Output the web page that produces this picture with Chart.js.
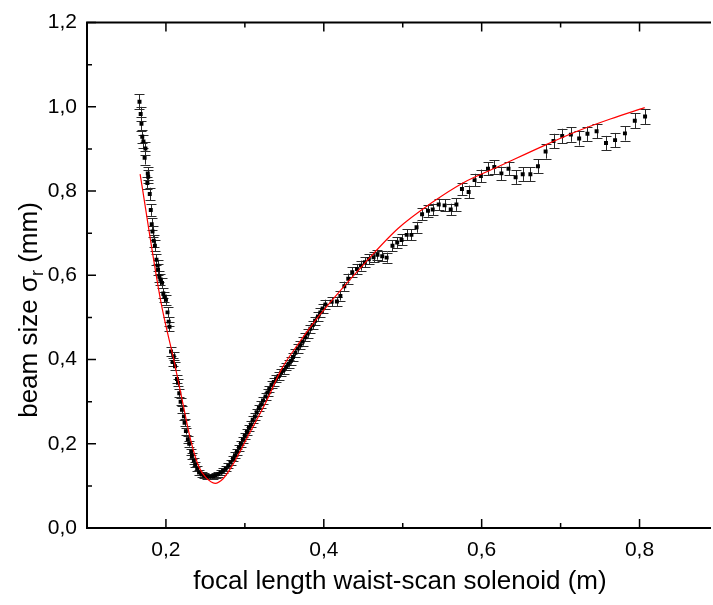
<!DOCTYPE html>
<html>
<head>
<meta charset="utf-8">
<script src="https://cdn.jsdelivr.net/npm/chart.js@4.4.1/dist/chart.umd.min.js"></script>
<style>
  html, body { margin: 0; padding: 0; background: #fff; }
  #wrap { width: 713px; height: 605px; }
</style>
</head>
<body>
<div id="wrap"><canvas id="waistScan"></canvas></div>
<script>
// measured beam size vs focal length (m), values in mm
const focalLength = [
  0.1665, 0.168, 0.169, 0.170, 0.1715, 0.173, 0.174, 0.1765, 0.177, 0.1775,
  0.1795, 0.1808, 0.182, 0.183, 0.1845, 0.186, 0.188, 0.1895, 0.190, 0.1917,
  0.193, 0.195, 0.1967, 0.198, 0.200, 0.202, 0.2035, 0.2045,
  0.2065, 0.2085, 0.2098, 0.2115, 0.214, 0.2153, 0.2169, 0.2186, 0.2203, 0.2228,
  0.2236, 0.2253, 0.2278, 0.2295, 0.232, 0.2329, 0.2354, 0.237, 0.2396, 0.242,
  0.2455, 0.2488, 0.2525, 0.2564, 0.2598, 0.263, 0.2665, 0.2695, 0.2724, 0.2758,
  0.279, 0.282, 0.285, 0.2875, 0.290, 0.2926, 0.295, 0.2976, 0.300, 0.3027,
  0.3052, 0.3077, 0.310, 0.3127, 0.315, 0.3178, 0.3207, 0.323, 0.3262, 0.3287,
  0.331, 0.3338, 0.3367, 0.3396, 0.343, 0.346, 0.349, 0.3527, 0.3556, 0.3585,
  0.361, 0.364, 0.367, 0.3704, 0.3733, 0.3767, 0.3796, 0.383, 0.386, 0.389,
  0.3926, 0.3956, 0.3985, 0.402,
  0.410, 0.4166, 0.421, 0.426, 0.431, 0.436, 0.442, 0.447, 0.452, 0.457,
  0.463, 0.468, 0.474, 0.4796, 0.487, 0.493, 0.4985, 0.505, 0.511, 0.5175,
  0.5245, 0.532, 0.538, 0.5456, 0.553, 0.5608, 0.568, 0.575, 0.5835, 0.591,
  0.599, 0.608, 0.616, 0.625, 0.634, 0.643, 0.652, 0.6617, 0.6713, 0.681,
  0.691, 0.702, 0.713, 0.7235, 0.734, 0.7456, 0.7575, 0.769, 0.7815, 0.794,
  0.807
];
const beamSize = [
  1.012, 0.983, 0.960, 0.929, 0.918, 0.879, 0.901, 0.819, 0.842, 0.834,
  0.793, 0.755, 0.721, 0.704, 0.682, 0.670, 0.637, 0.623, 0.613, 0.598,
  0.590, 0.582, 0.557, 0.549, 0.542, 0.512, 0.490, 0.478,
  0.419, 0.394, 0.408, 0.384, 0.354, 0.345, 0.320, 0.300, 0.281, 0.265,
  0.250, 0.230, 0.211, 0.200, 0.181, 0.171, 0.160, 0.150, 0.141, 0.132,
  0.127, 0.124, 0.122, 0.122, 0.123, 0.125, 0.128, 0.132, 0.136, 0.141,
  0.148, 0.156, 0.164, 0.173, 0.181, 0.191, 0.200, 0.210, 0.219, 0.228,
  0.238, 0.246, 0.257, 0.265, 0.275, 0.285, 0.294, 0.303, 0.312, 0.322,
  0.330, 0.340, 0.347, 0.355, 0.361, 0.369, 0.375, 0.383, 0.390, 0.397,
  0.406, 0.416, 0.426, 0.434, 0.443, 0.453, 0.462, 0.473, 0.482, 0.492,
  0.502, 0.512, 0.521, 0.531,
  0.537, 0.538, 0.551, 0.574, 0.592, 0.607, 0.615, 0.623, 0.631, 0.638,
  0.643, 0.649, 0.645, 0.642, 0.670, 0.678, 0.684, 0.696, 0.696, 0.714,
  0.745, 0.753, 0.756, 0.768, 0.766, 0.756, 0.768, 0.805, 0.798, 0.826,
  0.836, 0.853, 0.857, 0.842, 0.853, 0.833, 0.840, 0.840, 0.859, 0.894,
  0.919, 0.931, 0.934, 0.925, 0.936, 0.942, 0.914, 0.921, 0.937, 0.967,
  0.977
];
const beamError = [
  0.018, 0.017, 0.017, 0.016, 0.016, 0.016, 0.016, 0.015, 0.015, 0.015,
  0.015, 0.014, 0.014, 0.014, 0.014, 0.013, 0.013, 0.013, 0.013, 0.013,
  0.013, 0.012, 0.012, 0.012, 0.012, 0.012, 0.011, 0.011,
  0.010, 0.010, 0.010, 0.010, 0.009, 0.009, 0.009, 0.009, 0.008, 0.008,
  0.008, 0.008, 0.008, 0.007, 0.007, 0.007, 0.007, 0.006, 0.006, 0.006,
  0.006, 0.006, 0.006, 0.006, 0.006, 0.006, 0.006, 0.006, 0.006, 0.006,
  0.006, 0.006, 0.006, 0.007, 0.007, 0.007, 0.007, 0.007, 0.007, 0.007,
  0.007, 0.007, 0.008, 0.008, 0.008, 0.008, 0.008, 0.008, 0.008, 0.008,
  0.008, 0.008, 0.009, 0.009, 0.009, 0.009, 0.009, 0.009, 0.009, 0.009,
  0.009, 0.009, 0.010, 0.010, 0.010, 0.010, 0.010, 0.010, 0.010, 0.010,
  0.010, 0.010, 0.011, 0.011,
  0.011, 0.011, 0.011, 0.011, 0.012, 0.012, 0.012, 0.012, 0.012, 0.012,
  0.012, 0.012, 0.012, 0.012, 0.013, 0.013, 0.013, 0.013, 0.013, 0.013,
  0.014, 0.014, 0.014, 0.014, 0.014, 0.014, 0.015, 0.015, 0.015, 0.015,
  0.015, 0.016, 0.016, 0.016, 0.016, 0.016, 0.016, 0.016, 0.016, 0.017,
  0.017, 0.017, 0.017, 0.017, 0.017, 0.017, 0.017, 0.017, 0.017, 0.018,
  0.018
];

// fitted curve
const fitFocal = [0.1673, 0.1938, 0.2106, 0.221, 0.2316, 0.242, 0.2505, 0.2623, 0.2724, 0.284,
  0.305, 0.326, 0.347, 0.368, 0.389, 0.410, 0.452, 0.494, 0.5366, 0.578,
  0.620, 0.679, 0.721, 0.763, 0.8066];
const fitBeam = [0.840, 0.535, 0.394, 0.300, 0.207, 0.144, 0.120, 0.106, 0.117, 0.148,
  0.222, 0.296, 0.379, 0.438, 0.492, 0.540, 0.629, 0.711, 0.772, 0.821,
  0.857, 0.908, 0.942, 0.971, 0.998];

const xTickValues = [0.2, 0.4, 0.6, 0.8];
const xTickLabels = ["0,2", "0,4", "0,6", "0,8"];
const xMinorValues = [0.1, 0.3, 0.5, 0.7];
const yTickValues = [0, 0.2, 0.4, 0.6, 0.8, 1.0, 1.2];
const yTickLabels = ["0,0", "0,2", "0,4", "0,6", "0,8", "1,0", "1,2"];
const yMinorValues = [0.1, 0.3, 0.5, 0.7, 0.9, 1.1];

const FONT = "'Liberation Sans', Arial, sans-serif";

// error bars under the points
const errorBars = {
  id: "errorBars",
  beforeDatasetsDraw(chart) {
    const ctx = chart.ctx;
    const y = chart.scales.y;
    const meta = chart.getDatasetMeta(0);
    ctx.save();
    ctx.strokeStyle = "#2a2a2a";
    ctx.lineWidth = 1;
    meta.data.forEach((pt, i) => {
      const top = y.getPixelForValue(beamSize[i] + beamError[i]);
      const bot = y.getPixelForValue(beamSize[i] - beamError[i]);
      const px = Math.round(pt.x) + 0.5;
      ctx.beginPath();
      ctx.moveTo(px, top);
      ctx.lineTo(px, bot);
      ctx.moveTo(px - 5, Math.round(top) + 0.5);
      ctx.lineTo(px + 5, Math.round(top) + 0.5);
      ctx.moveTo(px - 5, Math.round(bot) + 0.5);
      ctx.lineTo(px + 5, Math.round(bot) + 0.5);
      ctx.stroke();
    });
    ctx.restore();
  }
};

// origin style frame with inward ticks, plus axis titles
const frame = {
  id: "frame",
  afterDraw(chart) {
    const ctx = chart.ctx;
    const a = chart.chartArea;
    const x = chart.scales.x;
    const y = chart.scales.y;
    ctx.save();
    ctx.strokeStyle = "#000";
    ctx.lineWidth = 2;
    ctx.beginPath();
    ctx.moveTo(a.right + 2, a.top);
    ctx.lineTo(a.left, a.top);
    ctx.lineTo(a.left, a.bottom);
    ctx.lineTo(a.right + 2, a.bottom);
    ctx.stroke();

    ctx.lineWidth = 1.5;
    ctx.beginPath();
    const xt = (v, len) => {
      const p = x.getPixelForValue(v);
      ctx.moveTo(p, a.bottom); ctx.lineTo(p, a.bottom - len);
      ctx.moveTo(p, a.top); ctx.lineTo(p, a.top + len);
    };
    const yt = (v, len) => {
      const p = y.getPixelForValue(v);
      ctx.moveTo(a.left, p); ctx.lineTo(a.left + len, p);
    };
    xTickValues.forEach(v => xt(v, 9));
    xMinorValues.forEach(v => xt(v, 5));
    yTickValues.forEach(v => yt(v, 9));
    yMinorValues.forEach(v => yt(v, 5));
    ctx.stroke();

    // axis titles
    ctx.fillStyle = "#000";
    ctx.textBaseline = "alphabetic";
    ctx.font = "26px " + FONT;
    ctx.textAlign = "center";
    ctx.fillText("focal length waist-scan solenoid (m)", 400, 589);

    ctx.translate(37, 310);
    ctx.rotate(-Math.PI / 2);
    const big = "26px " + FONT, small = "18px " + FONT;
    const parts = [["beam size \u03c3", big, 0], ["r", small, 6], [" (mm)", big, 0]];
    let total = 0;
    parts.forEach(p => { ctx.font = p[1]; total += ctx.measureText(p[0]).width; });
    let cx = -total / 2;
    ctx.textAlign = "left";
    parts.forEach(p => {
      ctx.font = p[1];
      ctx.fillText(p[0], cx, p[2]);
      cx += ctx.measureText(p[0]).width;
    });
    ctx.restore();
  }
};

new Chart(document.getElementById("waistScan").getContext("2d"), {
  type: "scatter",
  data: {
    datasets: [
      {
        label: "data",
        data: focalLength.map((f, i) => ({ x: f, y: beamSize[i] })),
        pointStyle: "rect",
        pointRadius: 2.8,
        backgroundColor: "#000",
        borderColor: "#000",
        borderWidth: 0,
        order: 2,
      },
      {
        label: "fit",
        type: "line",
        data: fitFocal.map((f, i) => ({ x: f, y: fitBeam[i] })),
        borderColor: "#ff0000",
        borderWidth: 1.2,
        pointRadius: 0,
        fill: false,
        cubicInterpolationMode: "monotone",
        order: 1,
      },
    ],
  },
  options: {
    responsive: true,
    maintainAspectRatio: false,
    animation: false,
    layout: { padding: { top: 17, right: 0, left: 0, bottom: 0 } },
    plugins: { legend: { display: false }, tooltip: { enabled: false } },
    scales: {
      x: {
        type: "linear",
        min: 0.1,
        max: 0.888,
        afterBuildTicks: s => { s.ticks = xTickValues.map(v => ({ value: v })); },
        afterFit: s => { s.height = 77; },
        grid: { display: false, drawTicks: false },
        border: { display: false },
        ticks: {
          padding: 10,
          color: "#000",
          font: { family: FONT, size: 21 },
          maxRotation: 0,
          callback: (v, i) => xTickLabels[i],
        },
      },
      y: {
        min: 0,
        max: 1.2,
        afterBuildTicks: s => { s.ticks = yTickValues.map(v => ({ value: v })); },
        afterFit: s => { s.width = 87; },
        grid: { display: false, drawTicks: false },
        border: { display: false },
        ticks: {
          padding: 10,
          color: "#000",
          font: { family: FONT, size: 21 },
          callback: (v, i) => yTickLabels[i],
        },
      },
    },
  },
  plugins: [errorBars, frame],
});
</script>
</body>
</html>
